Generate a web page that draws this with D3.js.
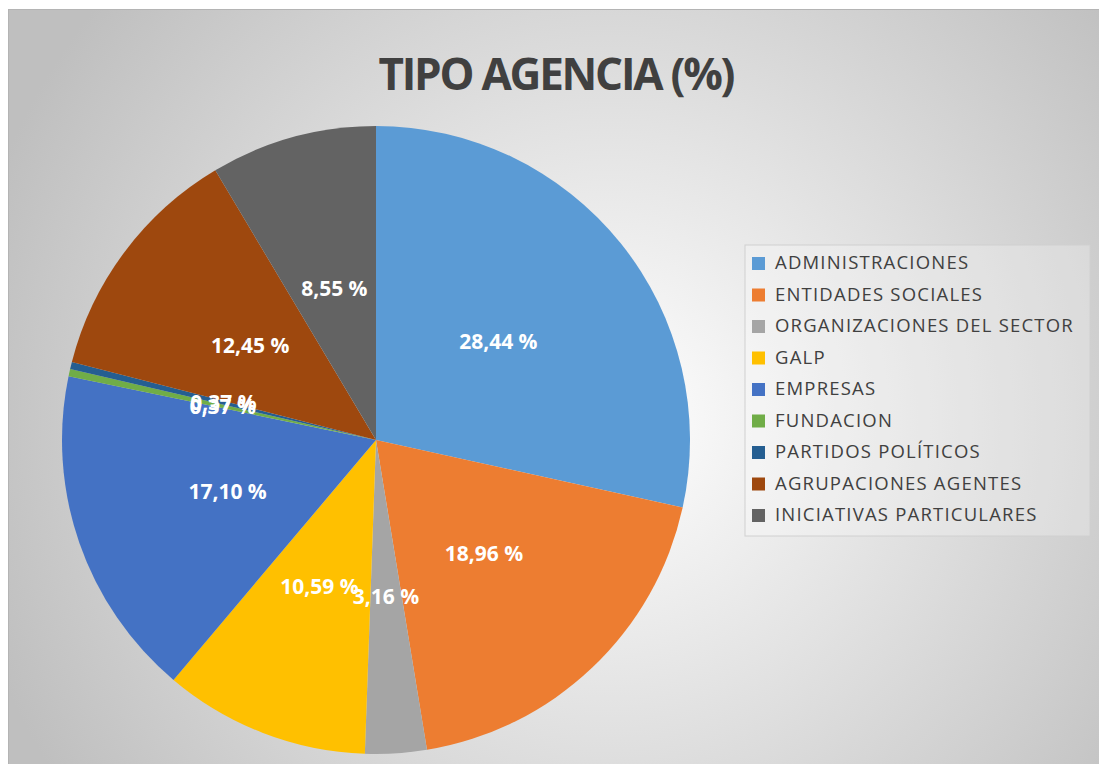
<!DOCTYPE html>
<head>
  <meta charset="utf-8">
  <title>Tipo agencia</title>
  <script src="https://cdn.jsdelivr.net/npm/d3@7"></script>
  <style>
    body { margin: 0; background: #fff; }
    text { font-family: "Open Sans", "Noto Sans", sans-serif; }
  </style>
</head>
<body>
  <script type="text/javascript">
    var WIDTH = 1099;
    var HEIGHT = 764;

    // data
    var categories = ["ADMINISTRACIONES", "ENTIDADES SOCIALES", "ORGANIZACIONES DEL SECTOR", "GALP",
                      "EMPRESAS", "FUNDACION", "PARTIDOS POLÍTICOS", "AGRUPACIONES AGENTES", "INICIATIVAS PARTICULARES"];
    var values = [28.44, 18.96, 3.16, 10.59, 17.10, 0.37, 0.37, 12.45, 8.55];
    var colors = ["#5B9BD5", "#ED7D31", "#A5A5A5", "#FFC000", "#4472C4", "#70AD47", "#255E91", "#9E480E", "#636363"];

    var svg = d3.select("body").append("svg")
                .attr("width", WIDTH)
                .attr("height", HEIGHT);

    var defs = svg.append("defs");
    var grad = defs.append("radialGradient")
        .attr("id", "bg")
        .attr("gradientUnits", "userSpaceOnUse")
        .attr("cx", 610).attr("cy", 420).attr("r", 660);
    grad.append("stop").attr("offset", "0%").attr("stop-color", "#ffffff");
    grad.append("stop").attr("offset", "100%").attr("stop-color", "#bfbfbf");

    // chart area
    svg.append("rect")
      .attr("x", 8.5).attr("y", 9.5)
      .attr("width", WIDTH - 8).attr("height", HEIGHT - 9)
      .attr("fill", "url(#bg)")
      .attr("stroke", "#b4b4b4");

    svg.append("text")
      .attr("x", 557).attr("y", 90)
      .attr("text-anchor", "middle")
      .attr("font-size", 44)
      .attr("font-weight", "bold")
      .attr("fill", "#404040")
      .attr("textLength", 357)
      .text("TIPO AGENCIA (%)");

    //============ pie
    var cx = 376, cy = 440, R = 314;
    var pie = d3.pie().sort(null).value(function(d){ return d; });
    var arcs = pie(values);
    var arc = d3.arc().innerRadius(0).outerRadius(R);

    var g = svg.append("g").attr("transform", "translate(" + cx + "," + cy + ")");
    g.selectAll("path")
      .data(arcs)
      .enter().append("path")
      .attr("d", arc)
      .attr("fill", function(d, i){ return colors[i]; });

    var fmt = function(v){ return v.toFixed(2).replace(".", ",") + " %"; };
    g.selectAll("text.lbl")
      .data(arcs)
      .enter().append("text")
      .attr("class", "lbl")
      .attr("transform", function(d){ return "translate(" + arc.centroid(d) + ")"; })
      .attr("text-anchor", "middle")
      .attr("dy", "0.35em")
      .attr("font-size", 21)
      .attr("font-weight", "bold")
      .attr("fill", "#ffffff")
      .text(function(d){ return fmt(d.data); });

    //============ legend
    var lg = svg.append("g").attr("transform", "translate(745,245)");
    lg.append("rect")
      .attr("width", 345).attr("height", 291)
      .attr("fill", "#ffffff").attr("fill-opacity", 0.25)
      .attr("stroke", "#d0d0d0");
    var item = lg.selectAll("g.item")
      .data(categories)
      .enter().append("g")
      .attr("class", "item")
      .attr("transform", function(d, i){ return "translate(0," + (18 + i * 31.5) + ")"; });
    item.append("rect")
      .attr("x", 7).attr("y", -6)
      .attr("width", 13).attr("height", 13)
      .attr("fill", function(d, i){ return colors[i]; });
    item.append("text")
      .attr("x", 30).attr("dy", "0.35em")
      .attr("font-size", 18.5)
      .attr("letter-spacing", 1.2)
      .attr("fill", "#404040")
      .text(function(d){ return d; });
  </script>
</body>
